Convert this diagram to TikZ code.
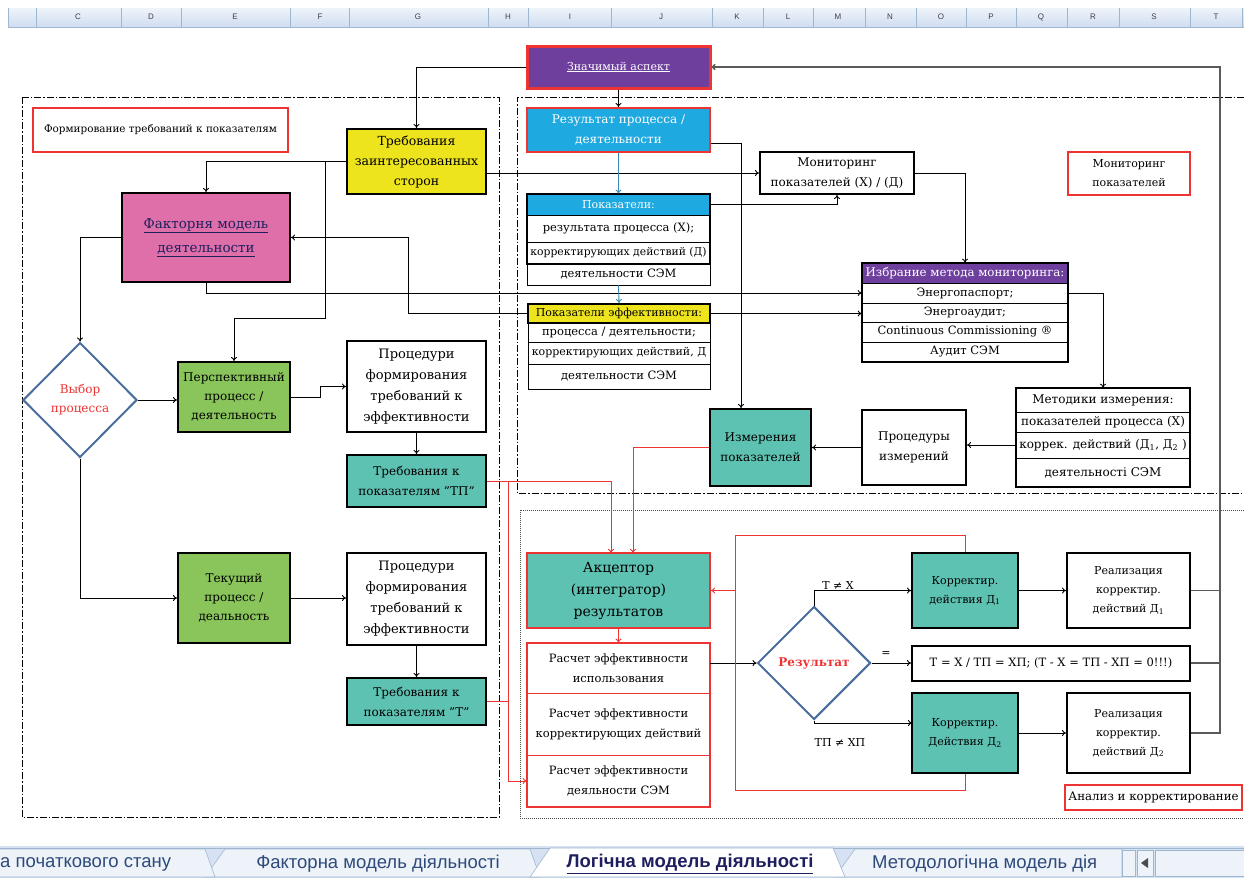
\documentclass[tikz,border=0pt]{standalone}
\usepackage{fontspec}
\setmainfont{DejaVu Serif}
\setsansfont{Liberation Sans}
\newfontfamily\tabfont{Liberation Sans}
\usetikzlibrary{shapes.geometric,arrows.meta}
\definecolor{redc}{HTML}{EE3333}
\definecolor{purp}{HTML}{6F3F9E}
\definecolor{bluec}{HTML}{1EA9E1}
\definecolor{yell}{HTML}{EEE41E}
\definecolor{pinkc}{HTML}{DE6FA9}
\definecolor{grn}{HTML}{8AC55B}
\definecolor{tealc}{HTML}{5EC2B3}
\definecolor{diamc}{HTML}{4A6E9E}
\definecolor{navy}{HTML}{1F1F5F}
\definecolor{busc}{HTML}{5A5A5A}
\definecolor{hdtop}{HTML}{EEF3FA}
\definecolor{hdbot}{HTML}{CFDDF0}
\definecolor{hdline}{HTML}{9EB6CE}
\definecolor{tabbg}{HTML}{D6E2F3}
\definecolor{tabtxt}{HTML}{2E4A7A}
\newcommand\fs[2]{\fontsize{#1}{#2}\selectfont}

\begin{document}
\begin{tikzpicture}[x=1pt,y=-1pt,>={To[length=4pt,width=6pt]}]
  \tikzstyle{box}=[draw=black, line width=2pt, align=center, inner sep=1pt]
  \tikzstyle{redbox}=[box, draw=redc]
  \tikzstyle{cell}=[draw=black, line width=0.7pt, align=center, inner sep=0pt, fill=white]
  \tikzstyle{rcell}=[cell, draw=redc, minimum width=183, font=\fs{11.5}{20}]
  \tikzstyle{decision}=[diamond, draw=diamc, line width=2pt, fill=white, inner sep=0pt, text=redc, align=center]
  \tikzstyle{link}=[->, line width=0.9pt]
  \tikzstyle{redlink}=[link, draw=redc]
  \tikzstyle{bluelink}=[link, draw=diamc!80!cyan]
  \tikzstyle{bus}=[line width=1.5pt, draw=busc]
  \tikzstyle{frame}=[line width=0.8pt, dash pattern=on 7pt off 2pt on 1.5pt off 2pt]
  \tikzstyle{dotframe}=[line width=1pt, draw=black!70, dash pattern=on 1pt off 1pt]
  \tikzstyle{lbl}=[inner sep=1pt, font=\fs{11}{13}]
  \tikzstyle{hdletter}=[inner sep=0pt, font=\sffamily\fs{8}{9}, text=black!75]
  \tikzstyle{tab}=[draw=hdline, line width=0.6pt]
  \tikzstyle{tabtext}=[inner sep=0pt, font=\tabfont\fs{18.5}{20}, text=tabtxt]

  \useasboundingbox (0,0) rectangle (1244,878);
  \fill[white] (0,0) rectangle (1244,878);

  % spreadsheet column header
  \shade[top color=hdtop, bottom color=hdbot] (8,8) rectangle (1244,27);
  \draw[hdline] (8,27) -- (1244,27);
  \foreach \x in {8,36,121,181,290,349,488,528,611,712,763,813,865,916,966,1016,1067,1119,1190,1242}
    \draw[hdline] (\x,8) -- (\x,27);
  \foreach \l/\x in {C/78,D/151,E/235,F/320,G/418,H/508,I/570,J/661,K/737,L/788,M/838,N/890,O/941,P/991,Q/1041,R/1093,S/1154,T/1216}
    \node[hdletter] (col-\l) at (\x,17) {\l};

  % frames of the three parts
  \draw[frame] (22,97) rectangle (499,817);
  \draw[frame] (1244,97) -- (517,97) -- (517,493) -- (1244,493);
  \draw[dotframe] (1244,510) -- (520,510) -- (520,818) -- (1244,818);

  % left part: requirements
  \node[redbox, fill=purp, text=white, minimum width=183, minimum height=42, line width=3pt, font=\fs{11}{13}] (znach) at (618.5,67) {\underline{Значимый аспект}};
  \node[redbox, fill=white, minimum width=255, minimum height=44, font=\fs{10.4}{12}] (formt) at (160.5,130) {Формирование требований к показателям};
  \node[box, fill=yell, minimum width=139, minimum height=65, font=\fs{12.5}{20}] (treb) at (416.5,161.5) {Требования\\заинтересованных\\сторон};
  \node[box, fill=pinkc, text=navy, minimum width=168, minimum height=89, font=\fs{13.5}{24}] (faktor) at (206,237.5) {\underline{Факторня модель}\\\underline{деятельности}};
  \node[decision, minimum width=114, minimum height=115, font=\fs{12}{19}] (vybor) at (80,400) {Выбор\\процесса};
  \node[box, fill=grn, minimum width=112, minimum height=70, font=\fs{12}{19}] (persp) at (234,397) {Перспективный\\процесс /\\деятельность};
  \node[box, fill=white, minimum width=139, minimum height=91, font=\fs{13}{21}] (proc1) at (416.5,386.5) {Процедури\\формирования\\требований к\\эффективности};
  \node[box, fill=tealc, minimum width=139, minimum height=52, font=\fs{12}{20}] (trebTP) at (416.5,481) {Требования к\\показателям "ТП"};
  \node[box, fill=grn, minimum width=112, minimum height=90, font=\fs{12}{19}] (tek) at (234,598) {Текущий\\процесс /\\деальность};
  \node[box, fill=white, minimum width=139, minimum height=92, font=\fs{13}{21}] (proc2) at (416.5,599) {Процедури\\формирования\\требований к\\эффективности};
  \node[box, fill=tealc, minimum width=139, minimum height=47, font=\fs{12}{20}] (trebT) at (416.5,701.5) {Требования к\\показателям "Т"};

  % upper right part: monitoring
  \node[redbox, fill=bluec, text=white, minimum width=183, minimum height=44, font=\fs{12}{20}] (rez) at (618.5,130) {Результат процесса /\\деятельности};
  \node[cell, fill=bluec, text=white, minimum width=183, minimum height=21, font=\fs{11}{13}] (pok0) at (618.5,204.5) {Показатели:};
  \node[cell, minimum width=183, minimum height=27, font=\fs{11.5}{13}] (pok1) at (618.5,228.5) {результата процесса (Х);};
  \node[cell, minimum width=183, minimum height=22, font=\fs{10.8}{12}] (pok2) at (618.5,253) {корректирующих действий (Д)};
  \node[cell, minimum width=183, minimum height=21, font=\fs{11.5}{13}] (pok3) at (618.5,274.5) {деятельности СЭМ};
  \draw[line width=2pt] (pok0.north west) rectangle (pok2.south east);

  \node[cell, fill=yell, line width=2pt, minimum width=182, minimum height=19, font=\fs{11}{12}] (pokef0) at (619,313.5) {Показатели эффективности:};
  \node[cell, minimum width=182, minimum height=19, font=\fs{11.5}{13}] (pokef1) at (619,332.5) {процесса / деятельности;};
  \node[cell, minimum width=182, minimum height=22, font=\fs{11}{12}] (pokef2) at (619,353) {корректирующих действий, Д};
  \node[cell, minimum width=182, minimum height=25, font=\fs{11.5}{13}] (pokef3) at (619,376.5) {деятельности СЭМ};

  \node[box, fill=white, minimum width=154, minimum height=42, font=\fs{12}{20}] (monit) at (837,173) {Мониторинг\\показателей (Х) / (Д)};
  \node[redbox, fill=white, minimum width=122, minimum height=43, font=\fs{11}{19}] (monitt) at (1129,173.5) {Мониторинг\\показателей};

  \node[cell, fill=purp, text=white, minimum width=206, minimum height=20, font=\fs{11.8}{13}] (izbr0) at (965,273) {Избрание метода мониторинга:};
  \node[cell, minimum width=206, minimum height=20, font=\fs{11.5}{13}] (izbr1) at (965,293) {Энергопаспорт;};
  \node[cell, minimum width=206, minimum height=19, font=\fs{11.5}{13}] (izbr2) at (965,312.5) {Энергоаудит;};
  \node[cell, minimum width=206, minimum height=20, font=\fs{11.5}{13}] (izbr3) at (965,332) {Continuous Commissioning ®};
  \node[cell, minimum width=206, minimum height=20, font=\fs{11.5}{13}] (izbr4) at (965,352) {Аудит СЭМ};
  \draw[line width=2pt] (izbr0.north west) rectangle (izbr4.south east);

  \node[cell, minimum width=174, minimum height=24, font=\fs{12}{13}] (metod0) at (1103,400) {Методики измерения:};
  \node[cell, minimum width=174, minimum height=20, font=\fs{12}{13}] (metod1) at (1103,422) {показателей процесса (Х)};
  \node[cell, minimum width=174, minimum height=26, font=\fs{12}{13}] (metod2) at (1103,445) {коррек. действий (Д\textsubscript{1}, Д\textsubscript{2} )};
  \node[cell, minimum width=174, minimum height=29, font=\fs{12}{13}] (metod3) at (1103,472.5) {деятельностi СЭМ};
  \draw[line width=2pt] (metod0.north west) rectangle (metod3.south east);

  \node[box, fill=white, minimum width=104, minimum height=75, font=\fs{12}{20}] (procizm) at (914,447.5) {Процедуры\\измерений};
  \node[box, fill=tealc, minimum width=101, minimum height=77, font=\fs{12}{20}] (izmer) at (760.5,447.5) {Измерения\\показателей};

  % lower right part: analysis
  \node[redbox, fill=tealc, minimum width=183, minimum height=75, font=\fs{14}{22}] (akcept) at (618.5,590.5) {Акцептор\\(интегратор)\\результатов};
  \node[rcell, minimum height=50] (rasch1) at (618.5,668) {Расчет эффективности\\использования};
  \node[rcell, minimum height=62] (rasch2) at (618.5,724) {Расчет эффективности\\корректирующих действий};
  \node[rcell, minimum height=52] (rasch3) at (618.5,781) {Расчет эффективности\\деяльности СЭМ};
  \draw[redc, line width=2pt] (rasch1.north west) rectangle (rasch3.south east);

  \node[decision, minimum width=113, minimum height=113, font=\fs{12}{14}\bfseries] (rezult) at (814,663) {Результат};
  \node[box, fill=tealc, minimum width=106, minimum height=75, font=\fs{11}{19}] (korr1) at (965,590.5) {Корректир.\\действия Д\textsubscript{1}};
  \node[box, fill=white, minimum width=123, minimum height=75, font=\fs{11}{19}] (real1) at (1128.5,590.5) {Реализация\\корректир.\\действий Д\textsubscript{1}};
  \node[box, fill=white, minimum width=278, minimum height=35, font=\fs{11.5}{13}] (teq) at (1051,663) {Т = Х / ТП = ХП; (Т - Х = ТП - ХП = 0!!!)};
  \node[box, fill=tealc, minimum width=106, minimum height=80, font=\fs{11}{19}] (korr2) at (965,733) {Корректир.\\Действия Д\textsubscript{2}};
  \node[box, fill=white, minimum width=123, minimum height=80, font=\fs{11}{19}] (real2) at (1128.5,733) {Реализация\\корректир.\\действий Д\textsubscript{2}};
  \node[redbox, fill=white, minimum width=177, minimum height=25, font=\fs{11.8}{13}] (analiz) at (1153.5,797.5) {Анализ и корректирование};

  \node[lbl] (lTX) at (838,585) {Т ≠ Х};
  \node[lbl] (lEq) at (886,654) {=};
  \node[lbl] (lTP) at (840,742) {ТП ≠ ХП};

  % junction points
  \coordinate (tj) at (325,161.5);
  \coordinate (pj) at (325,318);
  \coordinate (fj) at (408,313.5);
  \coordinate (rj) at (741,143);
  \coordinate (ak1) at (611,553);
  \coordinate (ak2) at (633,553);
  \coordinate (rb) at (508,481);
  \coordinate (k2in) at (912,723);
  \coordinate (fbt) at (735,535);
  \coordinate (fbb) at (735,790);
  \coordinate (rtop) at (1220,67);

  % connectors, left part
  \draw[link] (znach.west) -| (treb.north);
  \draw[link] (treb.west) -| (faktor.north);
  \draw[link] (tj) -- (pj) -| (persp.north);
  \draw[link] (treb.east |- monit.west) -- (monit.west);
  \draw[link] (faktor.west) -| (vybor.north);
  \draw[link] (vybor.east) -- (vybor.east -| persp.west);
  \draw[link] (vybor.south) |- (tek.west);
  \draw[link] (persp.east) -- ++(29,0) |- (proc1.west);
  \draw[link] (proc1.south) -- (trebTP.north);
  \draw[link] (tek.east) -- (proc2.west |- tek.east);
  \draw[link] (proc2.south) -- (trebT.north);
  \draw[link] (faktor.south) |- (izbr1.west);
  \draw[link] (pokef0.west) -- (fj) |- (faktor.east);

  % connectors, monitoring
  \draw[link] (znach.south) -- (rez.north);
  \draw[bluelink] (rez.south) -- (pok0.north);
  \draw[bluelink] (pok3.south) -- (pokef0.north);
  \draw[link] (pok0.east) -| (monit.south);
  \draw[link] (rj -| rez.east) -- (rj) -- (rj |- izmer.north);
  \draw[link] (pokef0.east) -- (pokef0.east -| izbr2.west);
  \draw[link] (monit.east) -| (izbr0.north);
  \draw[link] (izbr1.east) -| (metod0.north);
  \draw[link] (metod2.west) -- (procizm.east |- metod2.west);
  \draw[link] (procizm.west) -- (izmer.east);

  % connectors, analysis
  \draw[redlink] (izmer.west) -| (ak2);
  \draw[redlink] (trebTP.east) -| (ak1);
  \draw[redlink] (rb) |- (rasch3.west);
  \draw[redc, line width=0.9pt] (trebT.east) -- (trebT.east -| rb);
  \draw[redlink] (akcept.south) -- (rasch1.north);
  \draw[link] (rezult.west -| rasch1.east) -- (rezult.west);
  \draw[link] (rezult.north) |- (korr1.west);
  \draw[link] (rezult.east) -- (teq.west);
  \draw[link] (rezult.south) |- (k2in);
  \draw[link] (korr1.east) -- (real1.west);
  \draw[link] (korr2.east) -- (real2.west);
  \draw[redc, line width=0.9pt] (korr1.north) |- (fbt) -- (fbb) -| (korr2.south);
  \draw[redlink] (fbt |- akcept.east) -- (akcept.east);
  \draw[bus, ->] (real2.east) -| (rtop) -- (znach.east);
  \draw[bus] (real1.east) -- (real1.east -| rtop);
  \draw[bus] (teq.east) -- (teq.east -| rtop);

  % sheet tabs
  \fill[tabbg] (0,846) rectangle (1244,878);
  \draw[hdline] (0,848) -- (1244,848);
  \filldraw[tab, fill=hdtop] (835,877) -- (855,849) -- (1122,849) -- (1122,877) -- cycle;
  \filldraw[tab, fill=hdtop] (205,877) -- (225,849) -- (530,849) -- (540,877) -- cycle;
  \filldraw[tab, fill=hdtop] (-20,877) -- (0,849) -- (205,849) -- (215,877) -- cycle;
  \filldraw[tab, fill=white] (530,877) -- (550,848) -- (833,848) -- (845,877) -- cycle;
  \node[tabtext, anchor=west] (tab1) at (0,864) {а початкового стану};
  \node[tabtext] (tab2) at (378,864) {Факторна модель діяльності};
  \node[tabtext, font=\tabfont\fs{18.5}{20}\bfseries, text=navy] (tab3) at (690,864) {\underline{Логічна модель діяльності}};
  \node[tabtext, anchor=west] (tab4) at (872,864) {Методологічна модель дія};
  \filldraw[tab, fill=hdtop] (1122,850) rectangle (1135,876);
  \filldraw[tab, fill=hdtop] (1137,850) rectangle (1153,876);
  \fill[black!70] (1141,863) -- (1148,858) -- (1148,868) -- cycle;
  \filldraw[tab, fill=hdtop] (1155,850) rectangle (1244,876);
\end{tikzpicture}
\end{document}
